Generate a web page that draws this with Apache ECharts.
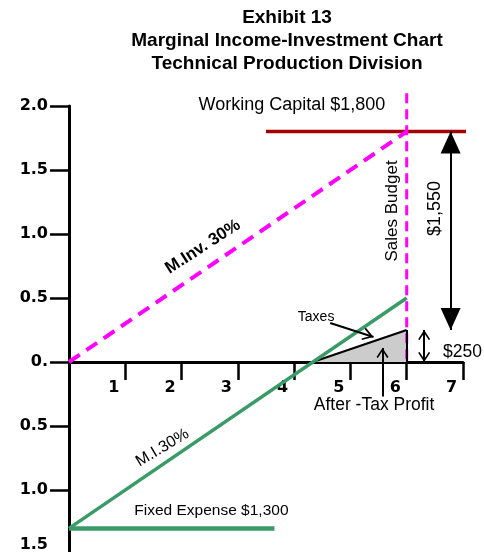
<!DOCTYPE html>
<html>
<head>
<meta charset="utf-8">
<script src="https://cdn.jsdelivr.net/npm/echarts@6/dist/echarts.min.js"></script>
<style>
  html, body { margin: 0; padding: 0; background: #fff; }
  #chart { width: 484px; height: 552px; }
</style>
</head>
<body>
<div id="chart"></div>
<script>
// Sales volume on x, dollars (thousands) on y
const xTickValues = [1, 2, 3, 4, 5, 6, 7];
const yTickValues = [-1.5, -1.0, -0.5, 0, 0.5, 1.0, 1.5, 2.0];

const salesBudgetX = [6, 6];
const salesBudgetY = [2.1, 0];

const investX = [0, 6];            // M.Inv. 30%
const investY = [0, 1.8];

const marginalX = [0, 6];          // M.I. 30%
const marginalY = [-1.3, 0.5];

const fixedX = [0, 3.65];          // Fixed Expense $1,300
const fixedY = [-1.3, -1.3];

const capitalX = [3.5, 7.4];       // Working Capital $1,800
const capitalY = [1.8, 1.8];

const afterTaxX = [4.33, 6];       // After-tax profit wedge, $250 at budget
const afterTaxY = [0, 0.25];

const spanArrowX = 6.78;           // $1,550 between profit and working capital
const spanArrowY = [1.8, 0.25];
const profitArrowX = 6.31;         // $250
const profitArrowY = [0, 0.25];

const pairs = (xs, ys) => xs.map((x, i) => [x, ys[i]]);

const FONT = 'Liberation Sans, Arial, sans-serif';
const GREEN = '#3a9a68';
const MAGENTA = '#ff00ff';

// plot box: y from 2.0 (top) to -1.5 (bottom)
const GRID_TOP = 106;
const GRID_HEIGHT = 448;
const Y_MIN = -1.5, Y_MAX = 2.0;
// the sales axis sits on the zero line
const X_AXIS_OFFSET = -GRID_HEIGHT * (0 - Y_MIN) / (Y_MAX - Y_MIN);

// arrow heads whose tip sits at the symbol centre
const FILLED_HEAD = 'path://M10,20L20,40L0,40Z M10,0';
const OPEN_HEAD = 'path://M6,12L12,23L10.6,24L6,15.5L1.4,24L0,23Z M6,0';

const notes = [
  { text: 'Working Capital $1,800', at: [3.96, 2.01], size: 18 },
  { text: 'Sales Budget', at: [5.74, 1.18], size: 17, rotate: 90 },
  { text: '$1,550', at: [6.5, 1.2], size: 18, rotate: 90 },
  { text: 'M.Inv. 30%', at: [2.38, 0.9], size: 17, rotate: 33, bold: true },
  { text: 'Taxes', at: [4.39, 0.35], size: 14 },
  { text: '$250', at: [6.99, 0.08], size: 17.5 },
  { text: 'After -Tax Profit', at: [5.42, -0.335], size: 17.5 },
  { text: 'M.I.30%', at: [1.66, -0.67], size: 16, rotate: 31 },
  { text: 'Fixed Expense $1,300', at: [2.53, -1.165], size: 15.5 }
];

const arrow = (from, to, fromSym, toSym, fromSize, toSize) => [
  { coord: from, symbol: fromSym, symbolSize: fromSize },
  { coord: to, symbol: toSym, symbolSize: toSize }
];

const chart = echarts.init(document.getElementById('chart'));

chart.setOption({
  animation: false,
  backgroundColor: '#fff',
  title: {
    text: 'Exhibit 13\nMarginal Income-Investment Chart\nTechnical Production Division',
    left: 282,
    top: 1,
    textAlign: 'center',
    textStyle: { fontFamily: FONT, fontWeight: 'bold', fontSize: 19, lineHeight: 23, color: '#000' }
  },
  grid: {
    left: 69, right: 21, top: GRID_TOP, height: GRID_HEIGHT,
    containLabel: false,
    outerBoundsMode: 'none'
  },
  xAxis: {
    type: 'value',
    min: 0,
    max: 7,
    interval: 1,
    position: 'bottom',
    offset: X_AXIS_OFFSET,
    axisLine: { onZero: false, lineStyle: { color: '#000', width: 3 } },
    axisTick: { customValues: xTickValues, length: 18, lineStyle: { color: '#000', width: 2.5 } },
    axisLabel: {
      customValues: xTickValues,
      margin: 18,
      padding: [0, 23, 0, 0],
      fontFamily: 'DejaVu Sans, sans-serif',
      fontWeight: 'bold',
      fontSize: 16,
      color: '#000'
    },
    splitLine: { show: false }
  },
  yAxis: {
    type: 'value',
    min: Y_MIN,
    max: Y_MAX,
    interval: 0.5,
    axisLine: { onZero: false, lineStyle: { color: '#000', width: 3 } },
    axisTick: { length: 19, lineStyle: { color: '#000', width: 2.5 } },
    axisLabel: {
      margin: 21,
      fontFamily: 'DejaVu Sans, sans-serif',
      fontWeight: 'bold',
      fontSize: 16,
      color: '#000',
      formatter: v => {
        if (v === 0) return '0.';
        const t = Math.abs(v).toFixed(1);
        return v === yTickValues[0] ? '{low|' + t + '}' : t;
      },
      rich: {
        low: { fontFamily: 'DejaVu Sans, sans-serif', fontWeight: 'bold', fontSize: 16, color: '#000', padding: [0, 0, 18, 0] }
      }
    },
    splitLine: { show: false }
  },
  series: [
    {
      name: 'After-Tax Profit',
      type: 'line',
      data: pairs(afterTaxX, afterTaxY),
      symbol: 'none',
      lineStyle: { color: '#000', width: 2 },
      areaStyle: { color: '#cccccc', opacity: 1 },
      z: 2,
      markLine: {
        silent: true,
        animation: false,
        label: { show: false },
        lineStyle: { color: '#000', width: 2, type: 'solid' },
        symbol: 'none',
        data: [
          arrow([afterTaxX[1], 0], [afterTaxX[1], afterTaxY[1]], 'none', 'none'),
          arrow([afterTaxX[1], afterTaxY[1]], [7.08, afterTaxY[1]], 'none', 'none'),
          arrow([spanArrowX, spanArrowY[0]], [spanArrowX, spanArrowY[1]], FILLED_HEAD, FILLED_HEAD, [20, 44], [20, 44]),
          arrow([profitArrowX, profitArrowY[0]], [profitArrowX, profitArrowY[1]], OPEN_HEAD, OPEN_HEAD, [12, 20], [12, 20]),
          arrow([4.64, 0.305], [5.41, 0.195], 'none', OPEN_HEAD, 0, [13, 22]),
          arrow([5.57, -0.27], [5.57, 0.11], 'none', OPEN_HEAD, 0, [12, 20])
        ]
      }
    },
    {
      name: 'Fixed Expense',
      type: 'line',
      data: pairs(fixedX, fixedY),
      symbol: 'none',
      lineStyle: { color: GREEN, width: 4.5, cap: 'butt' },
      z: 3
    },
    {
      name: 'M.I. 30%',
      type: 'line',
      data: pairs(marginalX, marginalY),
      symbol: 'none',
      lineStyle: { color: GREEN, width: 3.5 },
      z: 3
    },
    {
      name: 'Working Capital',
      type: 'line',
      data: pairs(capitalX, capitalY),
      symbol: 'none',
      clip: false,
      lineStyle: { color: '#a30000', width: 3.5 },
      z: 3
    },
    {
      name: 'M.Inv. 30%',
      type: 'line',
      data: pairs(investX, investY),
      symbol: 'none',
      lineStyle: { color: MAGENTA, width: 4, type: [13, 8] },
      z: 4
    },
    {
      name: 'Sales Budget',
      type: 'line',
      data: pairs(salesBudgetX, salesBudgetY),
      symbol: 'none',
      clip: false,
      lineStyle: { color: MAGENTA, width: 3, type: [10, 6] },
      z: 4
    },
    {
      name: 'Notes',
      type: 'scatter',
      symbolSize: 0,
      clip: false,
      silent: true,
      itemStyle: { opacity: 1 },
      z: 6,
      data: notes.map(n => ({
        value: n.at,
        label: {
          show: true,
          position: 'inside',
          formatter: n.text,
          rotate: n.rotate || 0,
          align: 'center',
          verticalAlign: 'middle',
          fontFamily: FONT,
          fontSize: n.size,
          fontWeight: n.bold ? 'bold' : 'normal',
          color: '#000',
          opacity: 1
        }
      }))
    }
  ]
});
</script>
</body>
</html>
